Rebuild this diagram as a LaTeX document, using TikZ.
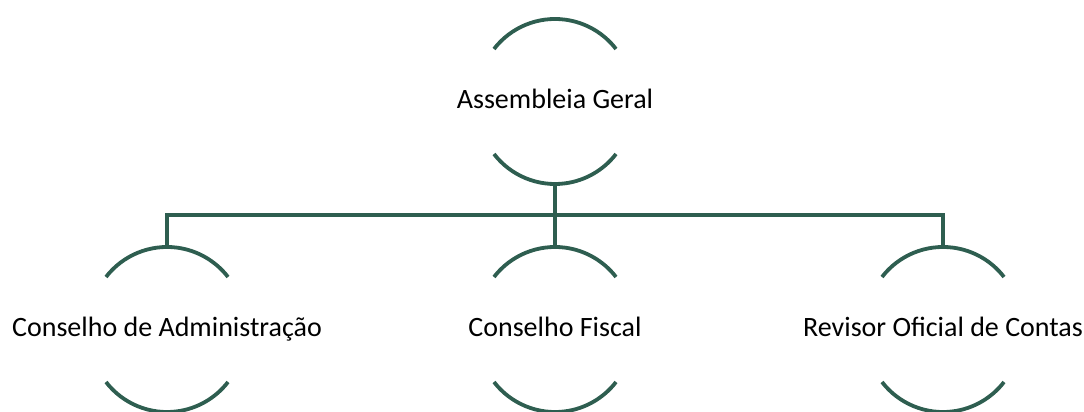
\documentclass[tikz,border=0pt]{standalone}
\usepackage{fontspec}
\setmainfont{Carlito}
\usetikzlibrary{calc}
\definecolor{orgteal}{RGB}{46,94,80}
\tikzset{
  unitlabel/.style={anchor=base, inner sep=0pt, font=\fontsize{28}{34}\selectfont, text=black},
  arcline/.style={draw=orgteal, line width=3.8pt},
  linkline/.style={draw=orgteal, line width=3.8pt}
}
\begin{document}
\begin{tikzpicture}[x=1pt,y=1pt]
\useasboundingbox (0,0) rectangle (1084,412);
% nodes (placed at their baselines)
\node[unitlabel] (ag) at (555,303) {Assembleia Geral};
\node[unitlabel] (ca) at (167,75) {Conselho de Administração};
\node[unitlabel] (cf) at (555,75) {Conselho Fiscal};
\node[unitlabel] (rc) at (943,75) {Revisor Oficial de Contas};
% arcs around each node
\foreach \n in {ag,ca,cf,rc}{
  \draw[arcline] ($(\n.base)+(-61,60)$) arc[start angle=142.4, end angle=37.6, radius=77pt];
  \draw[arcline] ($(\n.base)+(-61,-45)$) arc[start angle=217.6, end angle=322.4, radius=77pt];
  \coordinate (\n-top) at ($(\n.base)+(0,90)$);
  \coordinate (\n-bot) at ($(\n.base)+(0,-75)$);
}
\coordinate (bus) at (555,197);
% connectors
\draw[linkline] (ag-bot) -- (ag-bot |- bus);
\draw[linkline] (ca-top) -- (ca-top |- bus) -- (rc-top |- bus) -- (rc-top);
\draw[linkline] (cf-top) -- (cf-top |- bus);
\end{tikzpicture}
\end{document}
